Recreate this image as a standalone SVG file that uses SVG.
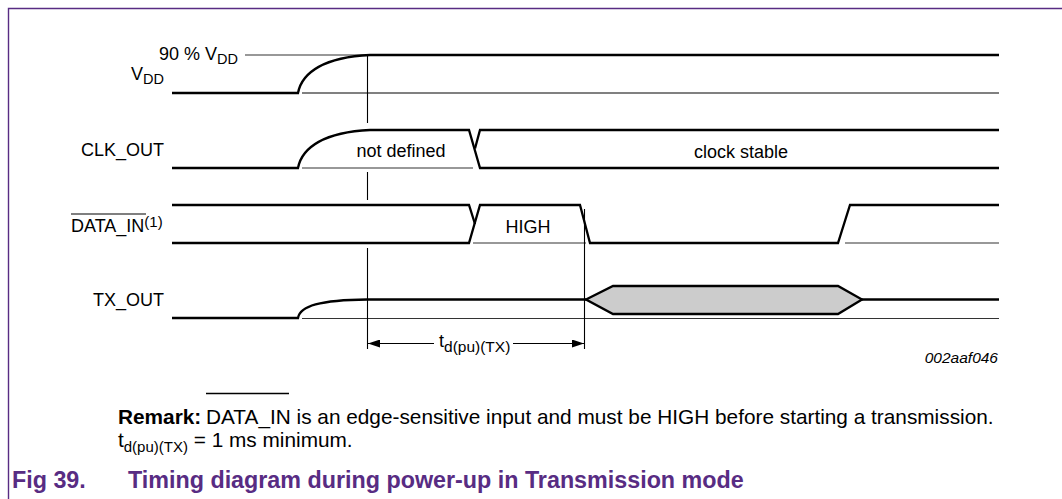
<svg xmlns="http://www.w3.org/2000/svg" width="1062" height="499" viewBox="0 0 1062 499">
<style>
text{font-family:"Liberation Sans",Arial,sans-serif;fill:#000}
.lbl{font-size:18px}
.sub{font-size:14.5px}
.sig{fill:none;stroke:#000;stroke-width:2.3;stroke-linejoin:miter}
.bus{fill:#cccccc;stroke:#000;stroke-width:2.3}
.ref{fill:none;stroke:#808080;stroke-width:1.8}
.thin{fill:none;stroke:#333;stroke-width:1.1}
.mark{fill:none;stroke:#000;stroke-width:1.1}
.cap{font-weight:bold;font-size:23.3px;fill:#582c83}
.rem{font-size:20.8px}
</style>
<defs>
<marker id="ah" viewBox="0 0 12 8" refX="12" refY="4" markerWidth="12" markerHeight="8" markerUnits="userSpaceOnUse" orient="auto">
<path d="M0,0 L12,4 L0,8 Z" fill="#000"/>
</marker>
</defs>
<rect width="1062" height="499" fill="#fff"/>
<path d="M8.5,499 V8.5 H1062" fill="none" stroke="#582c83" stroke-width="1.4"/>

<g id="vdd">
<text class="lbl" x="238" y="60" text-anchor="end">90 % V<tspan class="sub" dy="3.5">DD</tspan></text>
<line class="thin" x1="245" y1="55" x2="370" y2="55"/>
<text class="lbl" x="164" y="80" text-anchor="end">V<tspan class="sub" dy="4">DD</tspan></text>
<line class="ref" x1="302" y1="93" x2="999" y2="93"/>
<path class="sig" d="M172,93 H298 C302,72 325,57 370,55 H999"/>
</g>

<g id="clk_out">
<text class="lbl" x="164" y="156" text-anchor="end">CLK_OUT</text>
<line class="thin" x1="302" y1="168" x2="473" y2="168"/>
<path class="sig" d="M172,168 H298 C302,147 325,132 370,130 H469 L480,168 H999"/>
<path class="sig" d="M999,130 H480 L475,148.5"/>
<text class="lbl" x="401" y="157" text-anchor="middle">not defined</text>
<text class="lbl" x="741" y="158" text-anchor="middle">clock stable</text>
</g>

<g id="data_in">
<text class="lbl" x="71" y="232">DATA_IN<tspan font-size="15" dy="-5">(1)</tspan></text>
<line x1="71" y1="214" x2="146" y2="214" stroke="#000" stroke-width="1.2"/>
<path class="sig" d="M172,205 H469 L475,224"/>
<path class="sig" d="M172,243 H469 L480,205 H580 L590,243 H838 L850,205 H999"/>
<line class="thin" x1="473" y1="243" x2="586" y2="243"/>
<line class="thin" x1="845" y1="243" x2="999" y2="243"/>
<text class="lbl" x="528" y="233" text-anchor="middle">HIGH</text>
</g>

<g id="tx_out">
<text class="lbl" x="164" y="306" text-anchor="end">TX_OUT</text>
<line class="thin" x1="302" y1="318.5" x2="999" y2="318.5"/>
<path class="sig" d="M172,318 H298 C300,306 320,300 367,299.5 H586"/>
<path class="bus" d="M586,299.5 L613,286 H838 L862,299.5 L838,314 H613 Z"/>
<path class="sig" d="M862,299.5 H999"/>
</g>

<g id="connectors">
<path class="mark" d="M367.5,55 V123 M367.5,172 V200 M367.5,248 V349"/>
<path class="mark" d="M584.5,209 V349"/>
<line class="mark" x1="434" y1="343.5" x2="368" y2="343.5" marker-end="url(#ah)"/>
<line class="mark" x1="513" y1="343.5" x2="584" y2="343.5" marker-end="url(#ah)"/>
<text class="lbl" x="439" y="347">t<tspan font-size="15.5" dy="5">d(pu)(TX)</tspan></text>
</g>

<text x="998" y="362.5" text-anchor="end" font-size="15.5" font-style="italic">002aaf046</text>

<g id="remark">
<text class="rem" x="118" y="424"><tspan font-weight="bold">Remark:</tspan><tspan x="206">DATA_IN</tspan> is an edge-sensitive input and must be HIGH before starting a transmission.</text>
<line x1="206" y1="393.5" x2="289" y2="393.5" stroke="#000" stroke-width="1.3"/>
<text class="rem" x="118" y="447">t<tspan font-size="15" dy="5">d(pu)(TX)</tspan><tspan dy="-5"> = 1 ms minimum.</tspan></text>
</g>

<text class="cap" x="12" y="488">Fig 39.<tspan x="128">Timing diagram during power-up in Transmission mode</tspan></text>
</svg>
